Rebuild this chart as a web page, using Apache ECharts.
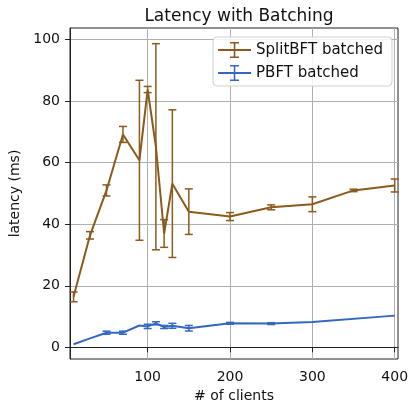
<!DOCTYPE html>
<html>
<head>
<meta charset="utf-8">
<script src="https://cdn.jsdelivr.net/npm/echarts@6/dist/echarts.min.js"></script>
<style>
  html, body { margin: 0; padding: 0; background: #fff; }
  #chart { width: 418px; height: 404px; }
</style>
</head>
<body>
<div id="chart"></div>
<script>
// clients on x, latency (ms) on y
var splitX   = [10, 30, 50, 70, 90, 100, 110, 120, 130, 150, 200, 250, 300, 350, 400]
var splitY   = [16.4, 36.4, 51.0, 69.2, 60.8, 83.8, 65.2, 37.0, 53.2, 44.1, 42.5, 45.5, 46.5, 51.0, 52.6]
var splitErr = [1.6, 1.2, 1.8, 2.6, 26.0, 1.0, 33.5, 4.5, 24.0, 7.4, 1.3, 0.8, 2.4, 0.4, 2.1]

var pbftX   = [10, 30, 50, 70, 90, 100, 110, 120, 130, 150, 200, 250, 300, 400]
var pbftY   = [1.0, 2.9, 4.75, 4.75, 7.1, 6.8, 7.8, 6.6, 7.0, 6.2, 7.8, 7.7, 8.2, 10.3]
var pbftErr = [0, 0, 0.5, 0.5, 0, 0.7, 0.5, 0.5, 0.8, 0.9, 0.3, 0.3, 0, 0]

var xTicks = [100, 200, 300, 400]
var yTicks = [0, 20, 40, 60, 80, 100]

var brown = '#8b5a1c'
var blue = '#3468c0'
var errIcon = 'path://M0,7H33V9H0Z M15.7,1H17.3V15H15.7Z M12,0H21V1.6H12Z M12,14.4H21V16H12Z'

function pairs(xs, ys) {
  return xs.map(function (x, i) { return [x, ys[i]] })
}
function errData(xs, ys, es) {
  var out = []
  xs.forEach(function (x, i) {
    if (es[i] > 0) out.push([x, ys[i] - es[i], ys[i] + es[i]])
  })
  return out
}
function errRender(color) {
  return function (params, api) {
    var lo = api.coord([api.value(0), api.value(1)])
    var hi = api.coord([api.value(0), api.value(2)])
    var w = 4
    var style = { stroke: color, lineWidth: 1.5 }
    return {
      type: 'group',
      children: [
        { type: 'line', shape: { x1: lo[0], y1: lo[1], x2: hi[0], y2: hi[1] }, style: style },
        { type: 'line', shape: { x1: lo[0] - w, y1: lo[1], x2: lo[0] + w, y2: lo[1] }, style: style },
        { type: 'line', shape: { x1: hi[0] - w, y1: hi[1], x2: hi[0] + w, y2: hi[1] }, style: style }
      ]
    }
  }
}

var chart = echarts.init(document.getElementById('chart'))
var axisText = { fontFamily: 'DejaVu Sans', fontSize: 14, color: '#111' }

chart.setOption({
  animation: false,
  backgroundColor: '#fff',
  title: {
    text: 'Latency with Batching',
    left: 234, top: 3, textAlign: 'center',
    textStyle: { fontFamily: 'DejaVu Sans', fontSize: 17, fontWeight: 'normal', color: '#111' }
  },
  grid: {
    left: 70, right: 20, top: 28, bottom: 45,
    outerBoundsMode: 'none',
    show: true, borderColor: '#222', borderWidth: 1
  },
  legend: {
    orient: 'vertical',
    right: 26, top: 37,
    itemWidth: 33, itemHeight: 16, itemGap: 7,
    padding: [5, 9, 5, 5],
    backgroundColor: 'rgba(255,255,255,0.85)',
    borderColor: '#d0d0d0', borderWidth: 1, borderRadius: 4,
    textStyle: { fontFamily: 'DejaVu Sans', fontSize: 15, color: '#111' },
    data: [
      { name: 'SplitBFT batched', icon: errIcon, itemStyle: { color: brown } },
      { name: 'PBFT batched', icon: errIcon, itemStyle: { color: blue } }
    ]
  },
  xAxis: {
    type: 'value', min: 5.7, max: 404,
    name: '# of clients', nameLocation: 'middle', nameGap: 29,
    nameTextStyle: axisText,
    axisLine: { show: true, lineStyle: { color: '#222' } },
    axisTick: { show: true, length: 5, customValues: xTicks, lineStyle: { color: '#222' } },
    axisLabel: Object.assign({ customValues: xTicks, margin: 11 }, axisText),
    splitLine: { show: true, lineStyle: { color: '#b0b0b0', width: 1 } }
  },
  yAxis: {
    type: 'value', min: -3.8, max: 103.8,
    name: 'latency (ms)', nameLocation: 'middle', nameGap: 46, nameRotate: 90,
    nameTextStyle: axisText,
    axisLine: { show: true, lineStyle: { color: '#222' } },
    axisTick: { show: true, length: 5, customValues: yTicks, lineStyle: { color: '#222' } },
    axisLabel: Object.assign({ customValues: yTicks, margin: 10 }, axisText),
    splitLine: { show: true, lineStyle: { color: '#b0b0b0', width: 1 } }
  },
  series: [
    {
      name: 'SplitBFT batched', type: 'line', data: pairs(splitX, splitY),
      symbol: 'none', color: brown, lineStyle: { color: brown, width: 2 }, z: 3
    },
    {
      name: 'PBFT batched', type: 'line', data: pairs(pbftX, pbftY),
      symbol: 'none', color: blue, lineStyle: { color: blue, width: 2 }, z: 3
    },
    {
      name: 'SplitBFT batched', type: 'custom', data: errData(splitX, splitY, splitErr),
      renderItem: errRender(brown), encode: { x: 0, y: [1, 2] }, z: 4
    },
    {
      name: 'PBFT batched', type: 'custom', data: errData(pbftX, pbftY, pbftErr),
      renderItem: errRender(blue), encode: { x: 0, y: [1, 2] }, z: 4
    }
  ]
})
</script>
</body>
</html>
